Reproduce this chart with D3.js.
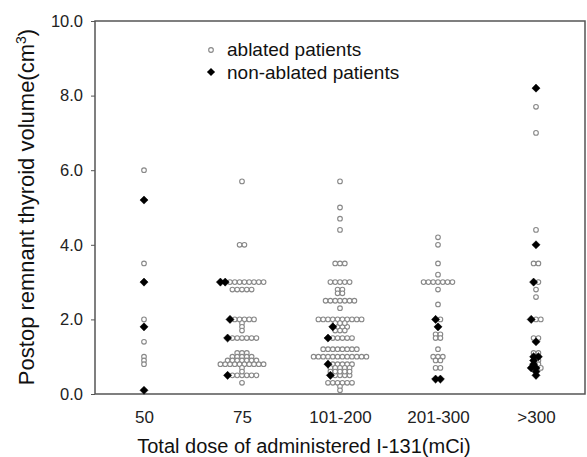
<!DOCTYPE html>
<html>
<head>
<meta charset="utf-8">
<script src="https://cdn.jsdelivr.net/npm/d3@7"></script>
<style>
  body { margin: 0; background: #fff; }
  text { font-family: Arial, "Liberation Sans", sans-serif; }
</style>
</head>
<body>
<svg width="587" height="457"></svg>
<script>
// dose groups on the x axis
var categories = ["50", "75", "101-200", "201-300", ">300"];
var yTicks = [0, 2, 4, 6, 8, 10];

// postop remnant volume (cm3)
var abl_50 = [6.0, 3.5, 2.0, 1.4, 1.0, 0.9, 0.8];
var non_50 = [5.2, 3.0, 1.8, 0.1];

var abl_75 = [5.7, 4.0, 4.0, 3.0, 3.0, 3.0, 3.0, 3.0, 3.0, 3.0, 3.0,
  2.8, 2.8, 2.8, 2.8, 2.8, 2.0, 2.0, 2.0, 2.0, 2.0, 1.9, 1.8, 1.7,
  1.5, 1.5, 1.5, 1.5, 1.5, 1.5, 1.1, 1.1, 1.1, 1.0, 1.0, 1.0, 1.0, 1.0,
  0.9, 0.9, 0.9, 0.9, 0.9, 0.9, 0.9, 0.8, 0.8, 0.8, 0.8, 0.8, 0.8, 0.8, 0.8, 0.8, 0.8,
  0.7, 0.6, 0.5, 0.5, 0.5, 0.5, 0.5, 0.5, 0.3];
var non_75 = [3.0, 3.0, 2.0, 1.5, 0.5];

var abl_101 = [5.7, 5.0, 4.7, 4.4, 3.5, 3.5, 3.5, 3.0, 3.0, 3.0, 3.0, 3.0,
  2.8, 2.8, 2.7, 2.7, 2.5, 2.5, 2.5, 2.5, 2.5, 2.5, 2.5, 2.3,
  2.0, 2.0, 2.0, 2.0, 2.0, 2.0, 2.0, 2.0, 2.0, 2.0, 1.9, 1.9, 1.9,
  1.8, 1.8, 1.8, 1.7, 1.7, 1.7, 1.5, 1.5, 1.5, 1.5, 1.5,
  1.2, 1.2, 1.2, 1.2, 1.2, 1.2, 1.2, 1.2,
  1.0, 1.0, 1.0, 1.0, 1.0, 1.0, 1.0, 1.0, 1.0, 1.0, 1.0, 1.0,
  0.8, 0.8, 0.8, 0.8, 0.8, 0.7, 0.7, 0.7, 0.7, 0.7, 0.6, 0.6, 0.6, 0.6, 0.6,
  0.5, 0.5, 0.5, 0.5, 0.3, 0.3, 0.3, 0.3, 0.3, 0.3, 0.2, 0.1];
var non_101 = [1.8, 1.5, 0.8, 0.5];

var abl_201 = [4.2, 4.0, 3.5, 3.2, 3.0, 3.0, 3.0, 3.0, 3.0, 3.0, 3.0, 2.8, 2.4,
  2.0, 1.6, 1.6, 1.5, 1.5, 1.2, 1.0, 1.0, 1.0, 0.9, 0.9, 0.7, 0.7];
var non_201 = [2.0, 1.8, 0.4, 0.4];

var abl_300 = [7.7, 7.0, 4.4, 3.5, 3.5, 3.0, 2.8, 2.6, 2.0, 2.0, 1.5, 1.5,
  1.1, 1.1, 0.9, 0.8, 0.7];
var non_300 = [8.2, 4.0, 3.0, 2.0, 1.4, 1.0, 1.0, 0.9, 0.8, 0.7, 0.7, 0.6, 0.5];

var ablated = [abl_50, abl_75, abl_101, abl_201, abl_300];
var nonAblated = [non_50, non_75, non_101, non_201, non_300];

var svg = d3.select("svg");
var mLeft = 95, mRight = 585, mTop = 21, mBottom = 394;

var x = d3.scalePoint().domain(categories).range([mLeft, mRight]).padding(0.5);
var y = d3.scaleLinear().domain([0, 10]).range([mBottom, mTop]);

var openSym = d3.symbol(d3.symbolCircle, 17);
var blackSym = d3.symbol(d3.symbolDiamond2, 42);

// one row per equal value, black ones first, row centred on the group
var points = [];
categories.forEach(function (c, i) {
  var all = nonAblated[i].map(function (v) { return {v: v, black: true}; })
    .concat(ablated[i].map(function (v) { return {v: v, black: false}; }));
  var rows = d3.group(all, function (d) { return d.v; });
  rows.forEach(function (row) {
    var step = 4.8;
    row.forEach(function (d, j) {
      points.push({cat: c, v: d.v, black: d.black, dx: (j - (row.length - 1) / 2) * step});
    });
  });
});

// frame
svg.append("rect")
  .attr("x", mLeft).attr("y", mTop)
  .attr("width", mRight - mLeft).attr("height", mBottom - mTop)
  .attr("fill", "none").attr("stroke", "#555").attr("stroke-width", 1.5);

var yAxis = svg.append("g")
  .attr("transform", "translate(" + mLeft + ",0)")
  .call(d3.axisLeft(y).tickValues(yTicks).tickSize(4).tickPadding(8)
    .tickFormat(d3.format(".1f")));
yAxis.select(".domain").remove();
yAxis.selectAll("line").attr("stroke", "#555");
yAxis.selectAll("text").attr("font-size", 16.5).attr("fill", "#222");

var xAxis = svg.append("g")
  .attr("transform", "translate(0," + mBottom + ")")
  .call(d3.axisBottom(x).tickSize(0).tickPadding(17));
xAxis.select(".domain").remove();
xAxis.selectAll("text").attr("font-size", 17).attr("fill", "#222");

// open ones under the black ones
var sorted = points.slice().sort(function (a, b) { return a.black - b.black; });
svg.append("g").selectAll("path")
  .data(sorted)
  .enter().append("path")
    .attr("transform", function (d) { return "translate(" + (x(d.cat) + d.dx) + "," + y(d.v) + ")"; })
    .attr("d", function (d) { return d.black ? blackSym() : openSym(); })
    .attr("fill", function (d) { return d.black ? "#000" : "#fff"; })
    .attr("stroke", function (d) { return d.black ? "#000" : "#888"; })
    .attr("stroke-width", function (d) { return d.black ? 0.5 : 1.1; });

// legend
var legend = svg.append("g").attr("transform", "translate(211,0)");
legend.append("path").attr("transform", "translate(0,50)")
  .attr("d", openSym())
  .attr("fill", "#fff").attr("stroke", "#888").attr("stroke-width", 1.1);
legend.append("text").attr("x", 16).attr("y", 56).attr("font-size", 19).attr("fill", "#111")
  .text("ablated patients");
legend.append("path").attr("transform", "translate(0,72)")
  .attr("d", blackSym())
  .attr("fill", "#000");
legend.append("text").attr("x", 16).attr("y", 79).attr("font-size", 19).attr("fill", "#111")
  .text("non-ablated patients");

// axis titles
svg.append("text")
  .attr("transform", "translate(34,207) rotate(-90)")
  .attr("text-anchor", "middle").attr("font-size", 22).attr("fill", "#111")
  .html("Postop remnant thyroid volume(cm<tspan dy='-8' font-size='14'>3</tspan><tspan dy='8'>)</tspan>");

svg.append("text")
  .attr("x", 304).attr("y", 453)
  .attr("text-anchor", "middle").attr("font-size", 20).attr("fill", "#111")
  .text("Total dose of administered I-131(mCi)");
</script>
</body>
</html>
